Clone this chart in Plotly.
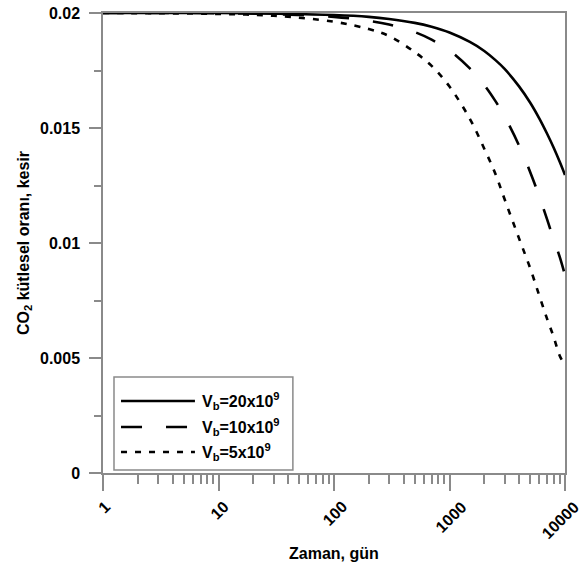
import math
import plotly.graph_objects as go

# ---- data ----
time_days = [1, 3, 10, 30, 100, 200, 300, 500, 700, 1000, 1500, 2000, 2500,
             3000, 4000, 5000, 6000, 7000, 8000, 9000, 10000]
co2_vb20 = [0.02, 0.02, 0.02, 0.01997, 0.01991, 0.01983, 0.01974, 0.01957, 0.01940,
            0.01915, 0.01874, 0.01835, 0.01795, 0.01757, 0.01681, 0.01610, 0.01541,
            0.01475, 0.01413, 0.01353, 0.01296]
co2_vb10 = [0.02, 0.02, 0.01999, 0.01995, 0.01983, 0.01966, 0.01950, 0.01917, 0.01884,
            0.01837, 0.01759, 0.01687, 0.01617, 0.01550, 0.01424, 0.01308, 0.01201,
            0.01103, 0.01013, 0.00940, 0.00860]
co2_vb5 = [0.02, 0.01999, 0.01996, 0.01988, 0.01962, 0.01930, 0.01900, 0.01830, 0.01770,
           0.01680, 0.01540, 0.01410, 0.01300, 0.01190, 0.01020, 0.00890, 0.00770,
           0.00670, 0.00590, 0.00510, 0.00470]

series_names = ["V<sub>b</sub>=20x10<sup>9</sup>",
                "V<sub>b</sub>=10x10<sup>9</sup>",
                "V<sub>b</sub>=5x10<sup>9</sup>"]
x_tick_vals = [1, 10, 100, 1000, 10000]
x_tick_text = ["1", "10", "100", "1000", "10000"]
y_tick_vals = [0, 0.005, 0.01, 0.015, 0.02]
y_tick_text = ["0", "0.005", "0.01", "0.015", "0.02"]

FONT = "Liberation Sans, Arial, sans-serif"
GRAY = "#8a8a8a"
dashes = ["solid", "21px,24px", "6px,8px"]
series = [co2_vb20, co2_vb10, co2_vb5]
BOLD16 = dict(family=FONT, size=16, color="black", weight="bold")

fig = go.Figure()
for name, vals, d in zip(series_names, series, dashes):
    fig.add_trace(go.Scatter(x=time_days, y=vals, mode="lines", name=name,
                             line=dict(color="black", width=2.6, dash=d, shape="spline"),
                             showlegend=False))

fig.update_layout(
    width=583, height=569,
    margin=dict(l=103, r=18, t=13, b=96),
    paper_bgcolor="white", plot_bgcolor="white",
    font=BOLD16,
)

fig.update_xaxes(
    type="log", range=[0, 4], automargin=False,
    tickvals=x_tick_vals, showticklabels=False,
    ticks="outside", ticklen=16, tickwidth=1.5, tickcolor=GRAY,
    minor=dict(ticks="outside", ticklen=9, tickwidth=1.5, tickcolor=GRAY, dtick="D1", showgrid=False),
    showline=True, linecolor=GRAY, linewidth=1.5, mirror=True,
    showgrid=False, zeroline=False,
)
fig.update_yaxes(
    range=[0, 0.02], automargin=False,
    tickvals=y_tick_vals, ticktext=y_tick_text,
    ticks="outside", ticklen=12, tickwidth=1.5, tickcolor=GRAY,
    tickfont=BOLD16, ticklabelstandoff=6,
    minor=dict(ticks="outside", ticklen=7, tickwidth=1.5, tickcolor=GRAY, dtick=0.0025, showgrid=False),
    showline=True, linecolor=GRAY, linewidth=1.5, mirror=True,
    showgrid=False, zeroline=False,
)

# rotated x tick labels centred under their ticks
n_ticks = len(x_tick_vals)
for i, (v, t) in enumerate(zip(x_tick_vals, x_tick_text)):
    fig.add_annotation(text=t, xref="x", yref="paper", x=math.log10(v), y=-0.049,
                       xanchor="center", yanchor="top", textangle=-45,
                       xshift=(-5 if i == n_ticks - 1 else 1),
                       showarrow=False, font=BOLD16)

# axis titles
fig.add_annotation(text="CO<sub>2</sub> kütlesel oranı, kesir", xref="paper", yref="paper",
                   x=-0.171, y=0.5, xanchor="center", yanchor="middle", textangle=-90,
                   showarrow=False, font=BOLD16)
fig.add_annotation(text="Zaman, gün", xref="paper", yref="paper",
                   x=0.5, y=-0.174, xanchor="center", yanchor="middle",
                   showarrow=False, font=BOLD16)

# legend box drawn manually
fig.add_shape(type="rect", xref="paper", yref="paper", x0=0.0238, x1=0.411, y0=0.0065, y1=0.2087,
              line=dict(color=GRAY, width=1.5), fillcolor="white", layer="above")
rows_y = [0.1565, 0.100, 0.0457]
for name, d, yy in zip(series_names, dashes, rows_y):
    fig.add_shape(type="line", xref="paper", yref="paper", x0=0.039, x1=0.199, y0=yy, y1=yy,
                  line=dict(color="black", width=2.6, dash=d), layer="above")
    fig.add_annotation(text=name, xref="paper", yref="paper", x=0.21, y=yy,
                       xanchor="left", yanchor="middle", showarrow=False, font=BOLD16)

fig.write_html("out.html", config={"displayModeBar": False},
               post_script="document.body.style.margin='0';document.body.style.overflow='hidden';")
